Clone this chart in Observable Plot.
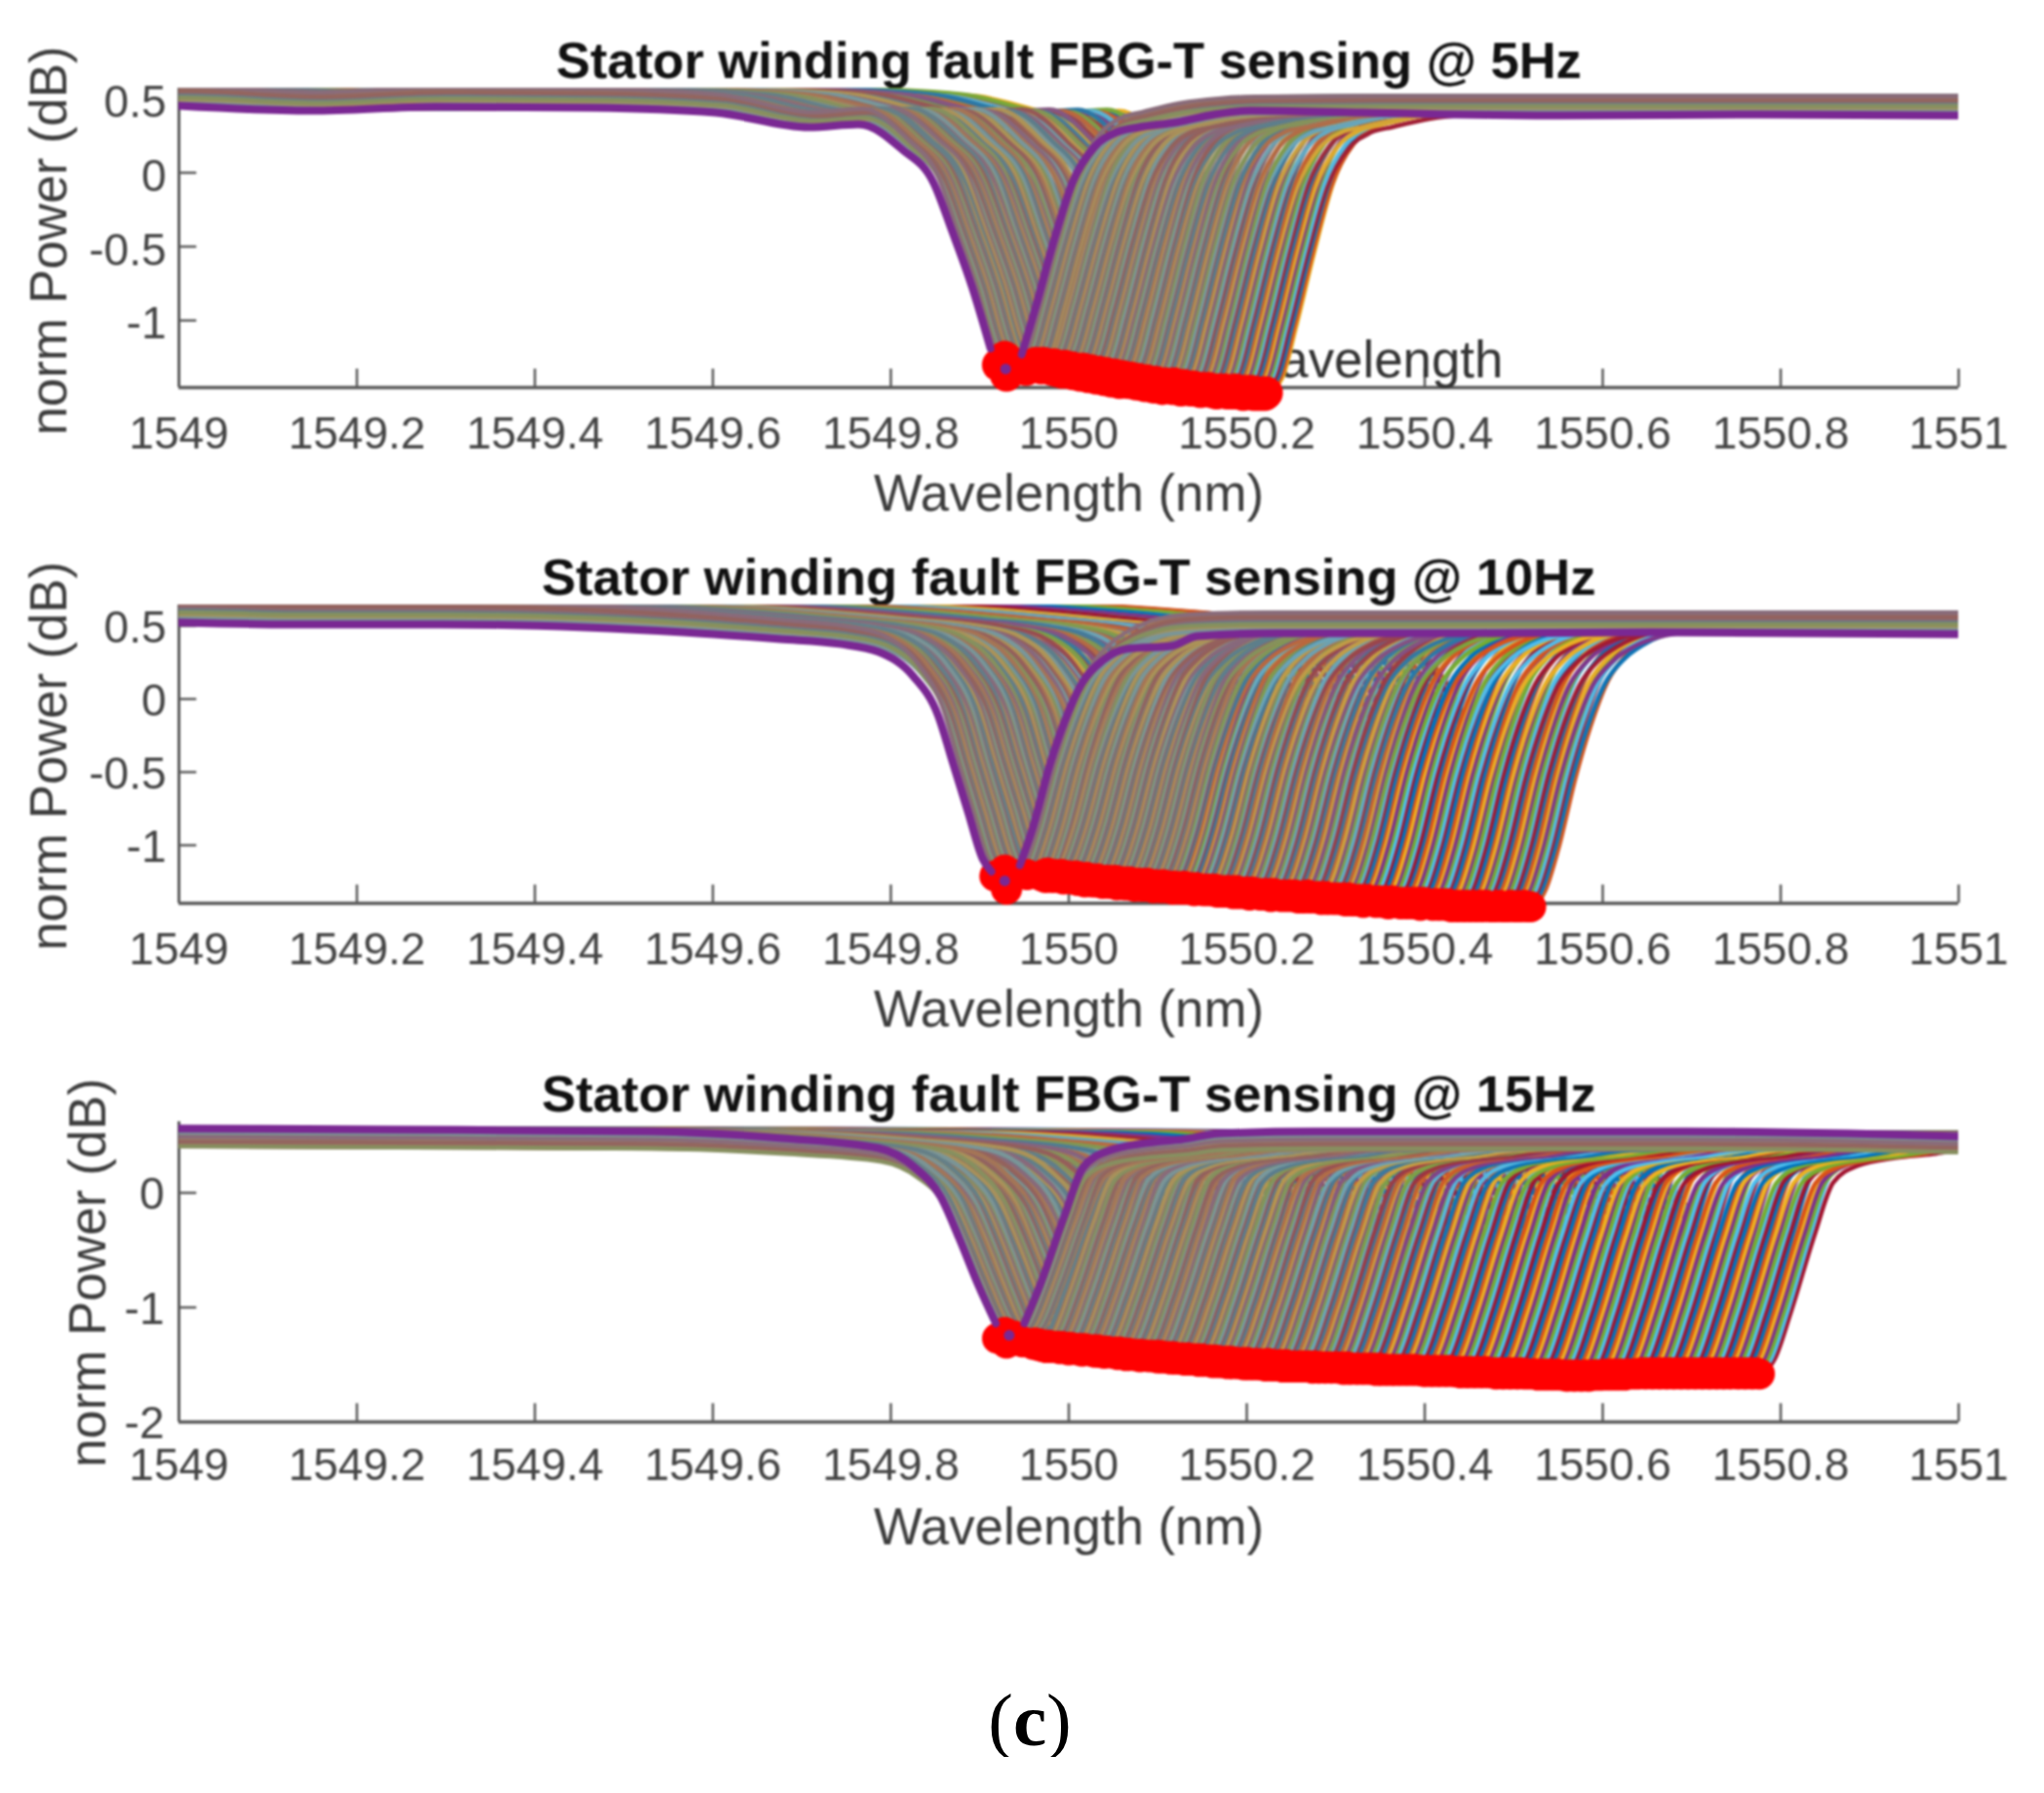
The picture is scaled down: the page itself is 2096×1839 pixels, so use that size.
<!DOCTYPE html>
<html>
<head>
<meta charset="utf-8">
<style>
html,body{margin:0;padding:0;background:#fff;}
#root{width:2096px;}
#root svg{display:block;}
#cap{font-family:"Liberation Serif",serif;font-size:77px;line-height:76px;color:#000;text-align:center;padding:126px 0 0 16px;filter:blur(0.5px);}
</style>
<script src="https://cdn.jsdelivr.net/npm/d3@7"></script>
<script src="https://cdn.jsdelivr.net/npm/@observablehq/plot@0.6"></script>
</head>
<body>
<div id="root"></div>
<div id="cap">(<b>c</b>)</div>
<script>
// Tick labels
const xTicks = [1549,1549.2,1549.4,1549.6,1549.8,1550,1550.2,1550.4,1550.6,1550.8,1551];
const yTicksA = [0.5,0,-0.5,-1];
const yTicksB = [0,-1,-2];
const titles = ["Stator winding fault FBG-T sensing @ 5Hz","Stator winding fault FBG-T sensing @ 10Hz","Stator winding fault FBG-T sensing @ 15Hz"];
const xLabel = "Wavelength (nm)";
const yLabel = "norm Power (dB)";
const matlabColors = ["#0072BD","#D95319","#EDB120","#7E2F8E","#77AC30","#4DBEEE","#A2142F"];

// Purple spectrum (wavelength nm, power dB)
const purple5X = [1549,1549.149,1549.288,1549.464,1549.603,1549.708,1549.764,1549.813,1549.848,1549.869,1549.891,1549.912,1549.929,1549.947,1549.962,1549.983,1550.004,1550.029,1550.054,1550.079,1550.121,1550.163,1550.205,1550.33,1550.553,1550.772,1551];
const purple5Y = [.453,.42,.447,.44,.407,.308,.328,.156,-.068,-.398,-.768,-1.19,-1.328,-1.23,-.926,-.464,-.068,.176,.275,.308,.341,.394,.42,.407,.387,.394,.387];
const purple10X = [1549,1549.128,1549.293,1549.457,1549.567,1549.676,1549.742,1549.786,1549.825,1549.853,1549.87,1549.887,1549.903,1549.913,1549.928,1549.945,1549.959,1549.979,1549.995,1550.015,1550.038,1550.065,1550.116,1550.144,1550.233,1550.456,1550.658,1551];
const purple10Y = [.523,.51,.51,.49,.457,.41,.377,.323,.157,-.11,-.443,-.777,-1.09,-1.18,-1.243,-1.137,-.89,-.443,-.157,.11,.263,.343,.363,.43,.45,.45,.457,.443];
const purple15X = [1549,1549.238,1549.532,1549.678,1549.786,1549.827,1549.856,1549.877,1549.898,1549.918,1549.933,1549.95,1549.968,1549.995,1550.016,1550.044,1550.086,1550.128,1550.17,1550.275,1550.485,1550.694,1550.876,1551];
const purple15Y = [.562,.553,.536,.477,.391,.221,-.034,-.4,-.8,-1.14,-1.243,-1.14,-.8,-.204,.221,.366,.434,.468,.519,.536,.536,.536,.519,.494];

// Profile of the other sweeps, read from the rightmost sweep where it differs from the purple one
const sweep5X = [1549,1549.149,1549.288,1549.464,1549.603,1549.708,1549.764,1549.813,1549.848,1549.869,1549.891,1549.912,1549.929,1549.947,1549.962,1549.983,1550.004,1550.029,1550.054,1550.079,1550.121,1550.163,1550.205,1550.33,1550.553,1550.772,1551];
const sweep5Y = [.453,.42,.447,.44,.407,.308,.328,.156,-.068,-.398,-.768,-1.19,-1.328,-1.23,-.926,-.464,-.068,.176,.275,.31,.36,.385,.395,.40,.40,.40,.40];
const sweep10X = [1549,1549.128,1549.293,1549.457,1549.567,1549.676,1549.742,1549.786,1549.825,1549.853,1549.87,1549.887,1549.903,1549.913,1549.928,1549.945,1549.959,1549.979,1549.995,1550.015,1550.038,1550.065,1550.09,1550.13,1550.2,1550.456,1550.658,1551];
const sweep10Y = [.523,.51,.51,.49,.457,.41,.377,.323,.157,-.11,-.443,-.777,-1.09,-1.18,-1.243,-1.137,-.89,-.443,-.157,.11,.263,.36,.41,.44,.45,.45,.45,.45];

// Dips of the sweeps hidden behind the first red cluster, pm above 1549 nm
const fan5 = [934,936,938,940,942,944,946,948,950,952,954,956,958,960];
const fan10 = [934,936,938,940,942,944,946,948,950,952,954,956,958,960,962,964,966,968];
const fan15 = [934,936,938,940,942,944,946,948,950,952,954,956,958];

// Dip wavelength of each marked sweep, pm above 1549 nm
const dips5 = [961,963,965,967,969,971,973,975,977,979,
981,983,985,987,989,991,993,995,997,999,
1001,1003,1005,1007,1009,1011,1013,1016,1018,1020,
1022,1024,1026,1029,1031,1033,1035,1037,1040,1042,
1044,1046,1048,1051,1053,1055,1057,1060,1062,1064,
1067,1069,1071,1074,1076,1078,1081,1083,1085,1088,
1090,1093,1095,1098,1100,1103,1105,1108,1111,1113,
1116,1118,1121,1124,1126,1129,1132,1134,1137,1140,
1143,1146,1148,1151,1154,1157,1160,1163,1166,1169,
1172,1175,1178,1181,1184,1187,1190,1193,1196,1199,
1202,1205,1208,1211,1214,1217,1220,1222];
// Dip power of each sweep, hundredths of a dB
const depths5 = [-130,-129,-131,-130,-132,-129,-131,-130,-132,-131,
-133,-130,-132,-134,-131,-133,-135,-131,-134,-132,
-135,-132,-136,-133,-135,-134,-137,-133,-136,-135,
-138,-134,-137,-136,-139,-135,-138,-137,-140,-136,
-139,-138,-141,-137,-140,-139,-142,-138,-141,-140,
-142,-139,-142,-141,-143,-140,-143,-142,-144,-141,
-144,-142,-145,-142,-144,-143,-146,-143,-145,-144,
-146,-143,-145,-145,-147,-144,-146,-145,-147,-145,
-147,-146,-148,-146,-147,-146,-148,-147,-149,-147,
-148,-147,-149,-148,-149,-147,-149,-148,-150,-148,
-149,-148,-150,-149,-150,-149,-150,-149];

const dips10 = [970,972,974,976,978,980,982,984,986,988,
990,992,994,996,998,1000,1002,1004,1006,1008,
1010,1012,1014,1016,1018,1020,1022,1024,1026,1028,
1030,1032,1034,1036,1038,1040,1042,1044,1046,1048,
1050,1052,1054,1056,1058,1060,1062,1064,1066,1068,
1070,1072,1074,1076,1078,1080,1082,1084,1086,1088,
1090,1092,1095,1097,1099,1101,1103,1106,1108,1110,
1112,1115,1117,1119,1122,1124,1126,1129,1131,1133,
1136,1138,1141,1143,1146,1148,1151,1153,1156,1158,
1161,1164,1167,1170,1173,1176,1179,1182,1185,1188,
1191,1194,1197,1200,1203,1206,1209,1212,1215,1218,
1221,1224,1227,1230,1233,1236,1239,1242,1245,1248,
1251,1254,1258,1261,1264,1268,1271,1274,1278,1281,
1284,1288,1291,1294,1298,1301,1304,1308,1311,1314,
1318,1321,1324,1328,1331,1335,1338,1342,1345,1349,
1352,1356,1359,1363,1366,1370,1373,1377,1380,1384,
1387,1391,1395,1398,1402,1405,1409,1412,1416,1419,
1423,1426,1430,1433,1437,1441,1444,1448,1451,1455,
1458,1462,1465,1469,1473,1476,1480,1483,1487,1490,
1494,1497,1501,1504,1508,1511,1515,1519];
const depths10 = [-121,-120,-122,-119,-121,-120,-122,-120,-121,-121,
-122,-120,-123,-121,-122,-121,-123,-122,-123,-121,
-124,-122,-124,-123,-125,-122,-124,-123,-125,-124,
-125,-123,-125,-124,-126,-124,-125,-124,-126,-125,
-126,-124,-127,-125,-126,-125,-127,-126,-127,-125,
-127,-126,-128,-126,-127,-126,-128,-127,-128,-126,
-128,-127,-129,-127,-128,-128,-129,-127,-129,-128,
-129,-128,-130,-128,-129,-129,-130,-128,-130,-129,
-130,-129,-131,-129,-130,-130,-131,-130,-131,-130,
-131,-130,-132,-131,-132,-131,-132,-131,-133,-131,
-133,-132,-133,-132,-134,-132,-133,-133,-134,-133,
-134,-133,-135,-133,-134,-134,-135,-134,-135,-134,
-135,-134,-136,-135,-136,-134,-136,-135,-136,-135,
-137,-135,-137,-136,-137,-136,-137,-136,-138,-136,
-138,-137,-138,-137,-139,-137,-138,-138,-139,-138,
-139,-138,-140,-138,-139,-139,-140,-139,-140,-139,
-140,-139,-141,-139,-140,-140,-141,-140,-141,-140,
-141,-140,-142,-141,-142,-141,-142,-141,-142,-141,
-142,-141,-142,-141,-142,-142,-142,-141,-142,-142,
-142,-141,-142,-142,-142,-141,-142,-142];

const dips15 = [960,962,965,967,970,972,975,977,980,982,
985,987,990,992,995,997,1000,1002,1005,1007,
1010,1012,1015,1017,1020,1022,1025,1027,1030,1032,
1035,1037,1040,1042,1045,1047,1050,1052,1055,1057,
1060,1062,1065,1067,1070,1072,1075,1077,1080,1082,
1085,1087,1090,1092,1095,1097,1100,1102,1105,1107,
1110,1112,1115,1117,1120,1123,1125,1128,1130,1133,
1136,1138,1141,1143,1146,1149,1151,1154,1156,1159,
1162,1165,1168,1170,1173,1176,1179,1182,1185,1188,
1191,1194,1197,1200,1203,1206,1209,1212,1215,1218,
1221,1224,1228,1231,1234,1237,1241,1244,1247,1250,
1254,1257,1260,1264,1267,1270,1274,1277,1281,1284,
1288,1291,1295,1298,1302,1305,1309,1313,1316,1320,
1324,1327,1331,1335,1338,1342,1346,1349,1353,1357,
1361,1364,1368,1372,1376,1380,1384,1388,1392,1396,
1400,1404,1408,1412,1416,1420,1424,1428,1432,1436,
1440,1444,1448,1452,1456,1460,1464,1468,1472,1476,
1480,1484,1488,1492,1496,1500,1504,1508,1512,1516,
1520,1524,1528,1532,1536,1540,1544,1548,1552,1556,
1560,1564,1568,1572,1576,1580,1584,1588,1592,1596,
1600,1604,1608,1612,1616,1620,1624,1628,1632,1636,
1640,1644,1648,1652,1656,1660,1664,1668,1672,1676,
1680,1684,1688,1692,1696,1700,1704,1708,1712,1716,
1720,1724,1728,1732,1736,1740,1744,1748,1752,1756,
1760,1764,1768,1772,1776];
const depths15 = [-132,-131,-133,-132,-134,-133,-135,-133,-135,-134,
-135,-134,-136,-134,-136,-135,-137,-135,-136,-136,
-137,-136,-138,-136,-137,-137,-138,-137,-139,-137,
-139,-138,-140,-138,-139,-139,-140,-139,-141,-139,
-141,-140,-142,-140,-141,-141,-142,-141,-143,-141,
-142,-142,-143,-142,-143,-142,-144,-142,-144,-143,
-144,-143,-145,-143,-145,-144,-145,-144,-146,-144,
-146,-145,-146,-145,-147,-145,-147,-146,-147,-146,
-148,-146,-148,-147,-148,-147,-149,-147,-149,-148,
-149,-148,-150,-148,-150,-149,-150,-149,-150,-150,
-151,-149,-151,-150,-151,-150,-152,-150,-152,-151,
-152,-151,-152,-151,-152,-151,-153,-151,-153,-152,
-153,-152,-153,-152,-153,-152,-154,-152,-154,-153,
-154,-153,-154,-153,-154,-153,-155,-153,-155,-154,
-155,-154,-155,-154,-155,-154,-155,-154,-155,-155,
-156,-155,-156,-155,-156,-155,-156,-155,-156,-156,
-157,-156,-157,-156,-157,-156,-157,-156,-157,-157,
-158,-157,-158,-157,-158,-157,-158,-157,-158,-158,
-158,-158,-159,-158,-159,-158,-159,-158,-159,-159,
-160,-159,-160,-159,-160,-159,-160,-159,-159,-159,
-159,-158,-159,-158,-159,-158,-159,-158,-158,-158,
-158,-157,-158,-157,-158,-157,-158,-157,-158,-157,
-158,-157,-158,-157,-158,-157,-158,-157,-158,-157,
-158,-157,-158,-157,-158,-157,-158,-157,-158,-157,
-158,-157,-158,-157,-158];

// Plateau offset of sweeps relative to the purple spectrum (dB)
const lift5 = [.10,.03,.08,.12,.05,.01,.09,.06,.11,.04,.07];
const lift10 = [.12,.04,.09,.14,.06,.02,.11,.07,.13,.05,.10];
const lift15 = [-.10,-.03,-.13,-.07,-.15,-.05,-.11,-.01,-.14,-.08,-.12];

// Red marker ring around the first dip and the neck joining it to the band (nm, dB)
const ring5X = [1549.921,1549.928,1549.934,1549.93,1549.952];
const ring5Y = [-1.30,-1.25,-1.28,-1.37,-1.33];
const ring10X = [1549.917,1549.928,1549.938,1549.93,1549.953];
const ring10Y = [-1.21,-1.17,-1.20,-1.30,-1.20];
const ring15X = [1549.92,1549.928,1549.938,1549.93,1549.948];
const ring15Y = [-1.27,-1.22,-1.25,-1.31,-1.30];

// How strongly the sweep colours stand out at a given dip (the dense areas read as a muddy mix)
const vivid5 = [[961,1100,1160,1222],[.28,.35,.6,.95]];
const vivid10 = [[970,1100,1120,1150,1250,1300,1330,1519],[.3,.35,.65,.5,.6,.7,1,.9]];
const vivid15 = [[960,1100,1250,1350,1450,1776],[.28,.32,.55,.85,1,1]];

const MUD = "#8d8472";
const PURPLE = "#7a2893";

function panel(cfg){
  const {pX,pY,sX,sY,dips,depths,fan,lift,ringX,ringY,vivid,yDomain,yTicks,title,height,marginTop,marginBottom,tickLenY,r,yLabelDx,yLabelDy,yTickDy,yTickPad,extra} = cfg;
  const bi = pY.indexOf(d3.min(pY));
  const top = sY[sY.length-3], bottom = pY[bi], bottomW = pX[bi];
  const sat = d3.scaleLinear().domain(vivid[0]).range(vivid[1]).clamp(true);
  const sweeps = [];
  const addSweep = (pm,dep,j,order)=>{
    const s = 1549+pm/1000-bottomW;
    const k = (dep-top)/(bottom-top);
    const c = d3.interpolateRgb(MUD,matlabColors[j%7])(sat(pm));
    const l = lift[j%lift.length];
    const at = i=>{
      const w = Math.min(1.2,Math.max(0,(sY[i]-bottom)/(top-bottom)));
      return top+(sY[i]-top)*k+l*w*w*w;
    };
    sweeps.push({x:1549,y:at(0),z:order,c});
    sX.forEach((x,i)=>{ sweeps.push({x:x+s,y:at(i),z:order,c}); });
  };
  // Most shifted sweep first, so the less shifted ones lie on top of it
  for(let j=dips.length-1;j>=0;j--){
    const dep = d3.mean(depths.slice(Math.max(0,j-6),j+7))/100;
    addSweep(dips[j],dep,j,"m"+j);
  }
  for(let j=fan.length-1;j>=0;j--){
    addSweep(fan[j],bottom,j+3,"f"+j);
  }
  const purple = pX.map((x,i)=>({x,y:pY[i],side:x<bottomW?"l":"r"})).filter((d,i)=>i!==bi);
  const markers = dips.map((d,j)=>({x:1549+d/1000,y:depths[j]/100})).concat(ringX.map((x,i)=>({x,y:ringY[i]})));
  const [yB] = yDomain;
  return Plot.plot({
    width:2096,height,
    marginTop,marginBottom,marginLeft:183,marginRight:88,
    x:{domain:[1549,1551]},
    y:{domain:yDomain},
    style:{fontFamily:"'Liberation Sans',Arial,sans-serif",background:"#fff",filter:"blur(1.3px)",overflow:"visible"},
    marks:[
      Plot.ruleX([1549],{stroke:"#5a5a5a",strokeWidth:3}),
      Plot.ruleY([yB],{stroke:"#5a5a5a",strokeWidth:3.5}),
      Plot.ruleX(xTicks,{y1:yB,y2:yB+tickLenY,stroke:"#5a5a5a",strokeWidth:2.5}),
      Plot.ruleY(yTicks,{x1:1549,x2:1549.02,stroke:"#5a5a5a",strokeWidth:2.5}),
      Plot.axisX({ticks:xTicks,tickSize:0,tickPadding:cfg.xPad,fontSize:46,fill:"#444",tickFormat:d=>`${d}`,label:null}),
      Plot.axisY({ticks:yTicks,tickSize:0,tickPadding:yTickPad,dy:yTickDy,fontSize:46,fill:"#444",tickFormat:d=>`${d}`,label:null}),
      Plot.text([title],{text:d=>d,frameAnchor:"top",lineAnchor:"middle",dy:-27,fontSize:52.5,fontWeight:"bold",fill:"#111"}),
      Plot.text([xLabel],{text:d=>d,frameAnchor:"bottom",lineAnchor:"middle",dy:cfg.xLabelDy,fontSize:52.8,fill:"#3d3d3d"}),
      Plot.text([yLabel],{text:d=>d,frameAnchor:"left",textAnchor:"middle",lineAnchor:"middle",rotate:-90,dx:yLabelDx,dy:yLabelDy,fontSize:52.8,fill:"#3d3d3d"}),
      ...(extra||[]),
      Plot.line(sweeps,{x:"x",y:"y",z:"z",stroke:"c",strokeWidth:4.5,curve:"monotone-x",clip:true}),
      Plot.dot(markers,{x:"x",y:"y",r,fill:"#ff0000",stroke:null}),
      Plot.line(purple,{x:"x",y:"y",z:"side",stroke:PURPLE,strokeWidth:8,curve:"monotone-x",clip:true}),
      Plot.dot([{x:bottomW,y:bottom}],{x:"x",y:"y",r:5.5,fill:PURPLE,stroke:null})
    ]
  });
}

const root = document.getElementById("root");
root.append(panel({
  pX:purple5X,pY:purple5Y,sX:sweep5X,sY:sweep5Y,dips:dips5,depths:depths5,fan:fan5,lift:lift5,ringX:ring5X,ringY:ring5Y,vivid:vivid5,
  yDomain:[-1.454,0.572],yTicks:yTicksA,title:titles[0],height:545,marginTop:90,marginBottom:148,tickLenY:0.125,r:17,
  yLabelDx:-132,yLabelDy:3,yTickDy:4,yTickPad:13,xPad:30,xLabelDy:110,
  extra:[Plot.text(["Wavelength"],{text:d=>d,x:[1550.488],y:[-1.27],textAnchor:"end",fontSize:52.8,fill:"#333"})]
}));
root.append(panel({
  pX:purple10X,pY:purple10Y,sX:sweep10X,sY:sweep10Y,dips:dips10,depths:depths10,fan:fan10,lift:lift10,ringX:ring10X,ringY:ring10Y,vivid:vivid10,
  yDomain:[-1.397,0.643],yTicks:yTicksA,title:titles[1],height:530,marginTop:75,marginBottom:149,tickLenY:0.125,r:16,
  yLabelDx:-132,yLabelDy:2,yTickDy:2,yTickPad:13,xPad:30,xLabelDy:110
}));
root.append(panel({
  pX:purple15X,pY:purple15Y,sX:purple15X,sY:purple15Y,dips:dips15,depths:depths15,fan:fan15,lift:lift15,ringX:ring15X,ringY:ring15Y,vivid:vivid15,
  yDomain:[-2,0.621],yTicks:yTicksB,title:titles[2],height:525,marginTop:75,marginBottom:142,tickLenY:0.16,r:16,
  yLabelDx:-92,yLabelDy:1,yTickDy:2,yTickPad:15,xPad:27,xLabelDy:109
}));
</script>
</body>
</html>
